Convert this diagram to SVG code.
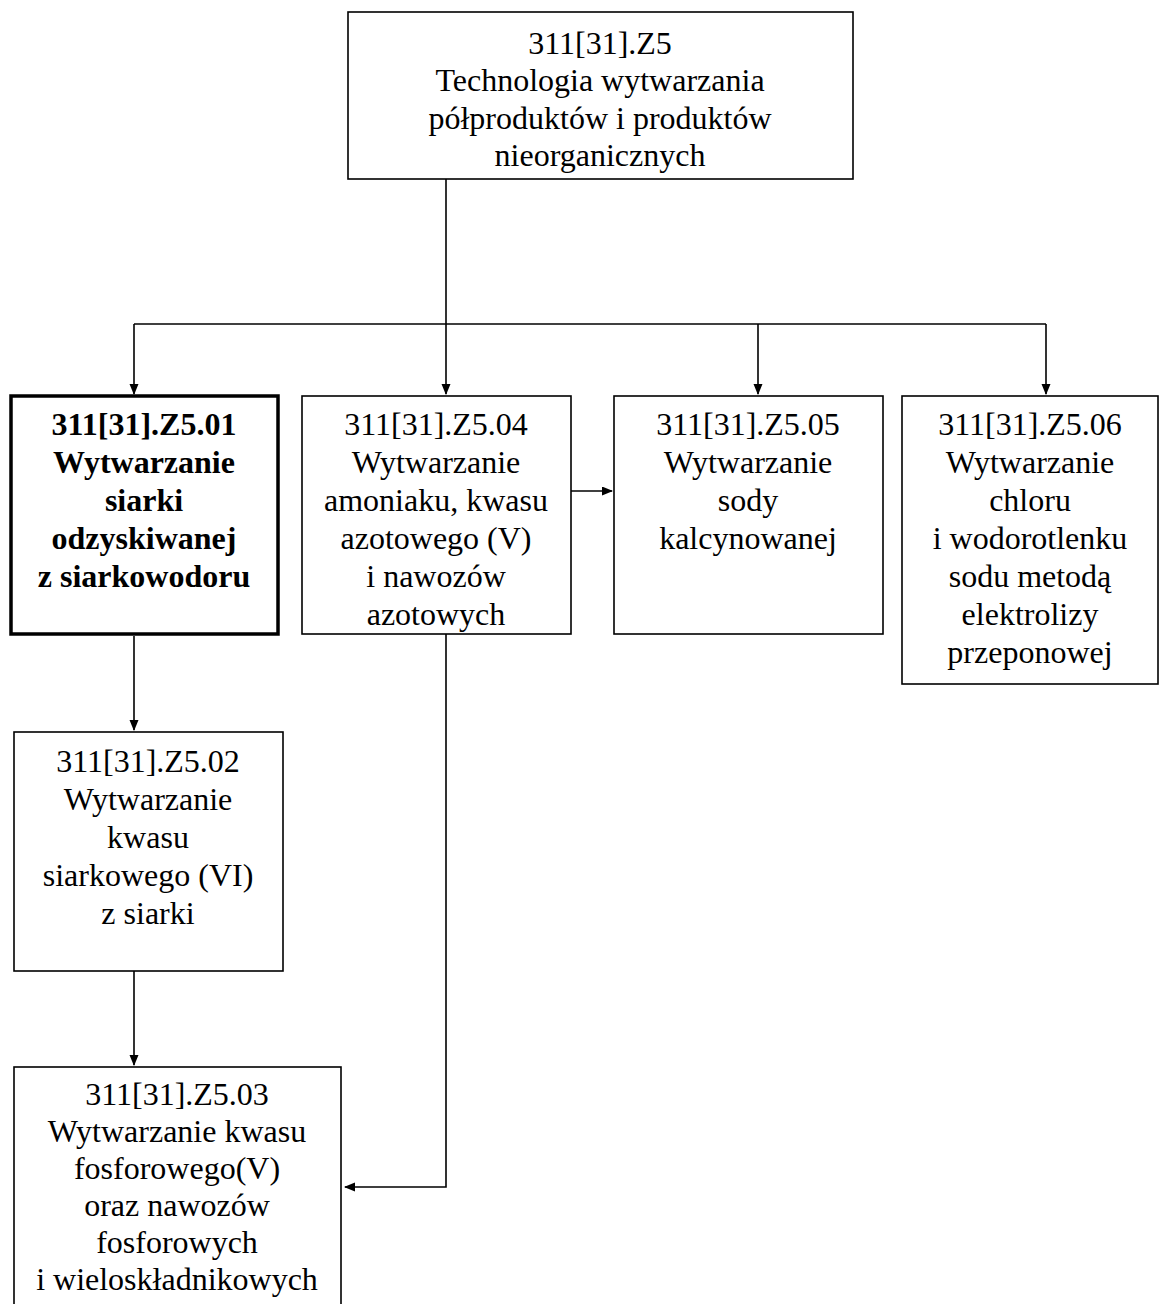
<svg xmlns="http://www.w3.org/2000/svg" width="1160" height="1304" viewBox="0 0 1160 1304">
<style>
.box{fill:#fff;stroke:#000;stroke-width:1.6}
.thick{stroke-width:3.5}
text{font-family:"Liberation Serif","Times New Roman",serif;font-size:32px;fill:#000;text-anchor:middle}
.b{font-weight:bold}
.ln{fill:none;stroke:#000;stroke-width:1.6}
</style>
<defs>
<marker id="ah" markerWidth="11" markerHeight="10" refX="10" refY="4.5" orient="auto" markerUnits="userSpaceOnUse">
<path d="M0,0 L11,4.5 L0,9 Z" fill="#000"/>
</marker>
</defs>
<rect width="1160" height="1304" fill="#fff"/>
<g id="connectors">
<path class="ln" d="M446,179 V324"/>
<path class="ln" d="M134,324 H1046"/>
<path class="ln" d="M134,324 V394" marker-end="url(#ah)"/>
<path class="ln" d="M446,324 V394" marker-end="url(#ah)"/>
<path class="ln" d="M758,324 V394" marker-end="url(#ah)"/>
<path class="ln" d="M1046,324 V394" marker-end="url(#ah)"/>
<path class="ln" d="M571,491 H612" marker-end="url(#ah)"/>
<path class="ln" d="M134,636 V730" marker-end="url(#ah)"/>
<path class="ln" d="M134,971 V1065" marker-end="url(#ah)"/>
<path class="ln" d="M446,634 V1187 H345" marker-end="url(#ah)"/>
</g>
<g id="n-z5">
<rect class="box" x="348" y="12" width="505" height="167"/>
<text x="600" y="54">311[31].Z5</text>
<text x="600" y="91">Technologia wytwarzania</text>
<text x="600" y="129">półproduktów i produktów</text>
<text x="600" y="166">nieorganicznych</text>
</g>
<g id="n-z501">
<rect class="box thick" x="11" y="396" width="267" height="238"/>
<text class="b" x="144" y="435">311[31].Z5.01</text>
<text class="b" x="144" y="473">Wytwarzanie</text>
<text class="b" x="144" y="511">siarki</text>
<text class="b" x="144" y="549">odzyskiwanej</text>
<text class="b" x="144" y="587">z siarkowodoru</text>
</g>
<g id="n-z504">
<rect class="box" x="302" y="396" width="269" height="238"/>
<text x="436" y="435">311[31].Z5.04</text>
<text x="436" y="473">Wytwarzanie</text>
<text x="436" y="511">amoniaku, kwasu</text>
<text x="436" y="549">azotowego (V)</text>
<text x="436" y="587">i nawozów</text>
<text x="436" y="625">azotowych</text>
</g>
<g id="n-z505">
<rect class="box" x="614" y="396" width="269" height="238"/>
<text x="748" y="435">311[31].Z5.05</text>
<text x="748" y="473">Wytwarzanie</text>
<text x="748" y="511">sody</text>
<text x="748" y="549">kalcynowanej</text>
</g>
<g id="n-z506">
<rect class="box" x="902" y="396" width="256" height="288"/>
<text x="1030" y="435">311[31].Z5.06</text>
<text x="1030" y="473">Wytwarzanie</text>
<text x="1030" y="511">chloru</text>
<text x="1030" y="549">i wodorotlenku</text>
<text x="1030" y="587">sodu metodą</text>
<text x="1030" y="625">elektrolizy</text>
<text x="1030" y="663">przeponowej</text>
</g>
<g id="n-z502">
<rect class="box" x="14" y="732" width="269" height="239"/>
<text x="148" y="772">311[31].Z5.02</text>
<text x="148" y="810">Wytwarzanie</text>
<text x="148" y="848">kwasu</text>
<text x="148" y="886">siarkowego (VI)</text>
<text x="148" y="924">z siarki</text>
</g>
<g id="n-z503">
<rect class="box" x="14" y="1067" width="327" height="260"/>
<text x="177" y="1105">311[31].Z5.03</text>
<text x="177" y="1142">Wytwarzanie kwasu</text>
<text x="177" y="1179">fosforowego(V)</text>
<text x="177" y="1216">oraz nawozów</text>
<text x="177" y="1253">fosforowych</text>
<text x="177" y="1290">i wieloskładnikowych</text>
</g>
</svg>
